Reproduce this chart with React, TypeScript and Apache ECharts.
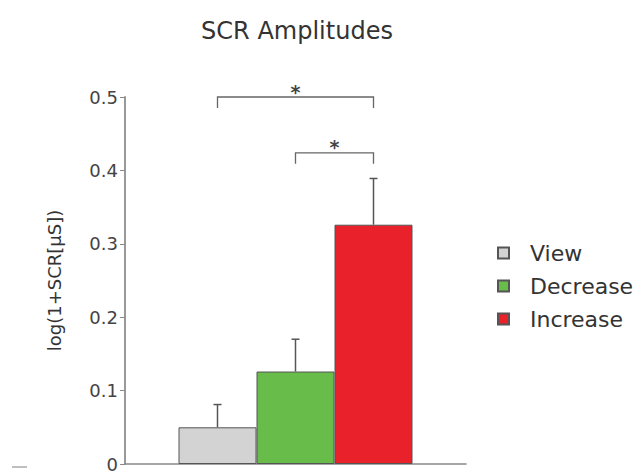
import React, { useEffect, useRef } from "react";
import * as echarts from "echarts";

const groups = ["View", "Decrease", "Increase"];
const means = [0.05, 0.126, 0.326];
const errors = [0.031, 0.044, 0.063];
const colors = ["#d3d3d3", "#68bd4a", "#e8212b"];
// comparisons: [fromIndex, toIndex, bracketLevel, label]
const comparisons: [number, number, number, string][] = [
  [0, 2, 0.5, "*"],
  [1, 2, 0.424, "*"],
];
const yTicks = { min: 0, max: 0.5, interval: 0.1 };

const BAR_W = 78;
const FONT = "'DejaVu Sans', 'Liberation Sans', Arial, sans-serif";

export default function App() {
  const ref = useRef<HTMLDivElement>(null);
  useEffect(() => {
    if (!ref.current) return;
    const chart = echarts.init(ref.current, null, { renderer: "svg" });
    const barSeries = groups.map((g, i) => ({
      name: g,
      type: "bar",
      barWidth: BAR_W,
      barGap: "0%",
      data: [means[i]],
      itemStyle: { color: colors[i], borderColor: "#555", borderWidth: 1 },
    }));
    const xOff = (i: number) => (i - (groups.length - 1) / 2) * BAR_W;
    const errorSeries = {
      type: "custom",
      silent: true,
      z: 5,
      data: groups.map((_, i) => [i, means[i], errors[i]]),
      renderItem: (params: any, api: any) => {
        const i = api.value(0);
        const m = api.value(1);
        const e = api.value(2);
        const top = api.coord([0, m]);
        const hi = api.coord([0, m + e]);
        const x = top[0] + xOff(i);
        const style = { stroke: "#555", lineWidth: 1.5 };
        return {
          type: "group",
          children: [
            { type: "line", shape: { x1: x, y1: top[1], x2: x, y2: hi[1] }, style },
            { type: "line", shape: { x1: x - 4, y1: hi[1], x2: x + 4, y2: hi[1] }, style },
          ],
        };
      },
    };
    const bracketSeries = {
      type: "custom",
      silent: true,
      z: 5,
      data: comparisons.map((c) => [c[0], c[1], c[2]]),
      renderItem: (params: any, api: any) => {
        const a = api.value(0);
        const b = api.value(1);
        const lvl = api.value(2);
        const p = api.coord([0, lvl]);
        const x1 = p[0] + xOff(a);
        const x2 = p[0] + xOff(b);
        const y = p[1];
        const style = { stroke: "#666", lineWidth: 1.3, fill: "none" };
        return {
          type: "group",
          children: [
            {
              type: "polyline",
              shape: { points: [[x1, y + 11], [x1, y], [x2, y], [x2, y + 11]] },
              style,
            },
            {
              type: "text",
              style: {
                text: comparisons[params.dataIndex][3],
                x: (x1 + x2) / 2,
                y: y + 4,
                align: "center",
                verticalAlign: "bottom",
                fontSize: 19,
                fontWeight: "bold",
                fontFamily: FONT,
                fill: "#444",
              },
            },
          ],
        };
      },
    };
    chart.setOption({
      animation: false,
      title: {
        text: "SCR Amplitudes",
        left: 292,
        textAlign: "center",
        top: 14,
        textStyle: { fontSize: 24, fontWeight: "normal", color: "#333", fontFamily: FONT },
      },
      legend: {
        data: groups,
        orient: "vertical",
        left: 492,
        top: 237,
        icon: "rect",
        itemWidth: 11,
        itemHeight: 11,
        itemGap: 11,
        textStyle: { fontSize: 22, color: "#333", fontFamily: FONT, padding: [0, 0, 0, 16] },
      },
      grid: { left: 125, right: 168, top: 97, bottom: 6, containLabel: false },
      xAxis: {
        type: "category",
        data: [""],
        axisLine: { lineStyle: { color: "#888", width: 1.5 } },
        axisTick: { show: false },
        axisLabel: { show: false },
      },
      yAxis: {
        type: "value",
        min: yTicks.min,
        max: yTicks.max,
        interval: yTicks.interval,
        name: "log(1+SCR[µS])",
        nameLocation: "middle",
        nameRotate: 90,
        nameGap: 62,
        nameTextStyle: { fontSize: 18, color: "#333", fontFamily: FONT },
        axisLine: { show: true, lineStyle: { color: "#999", width: 2 } },
        axisTick: { show: true, length: 5, lineStyle: { color: "#888" } },
        axisLabel: { fontSize: 18, color: "#444", fontFamily: FONT, margin: 7 },
        splitLine: { show: false },
      },
      graphic: [
        {
          type: "line",
          shape: { x1: 12, y1: 467, x2: 27, y2: 467 },
          style: { stroke: "#aaa", lineWidth: 1.5 },
        },
      ],
      series: [...barSeries, errorSeries, bracketSeries],
    });
    return () => chart.dispose();
  }, []);
  return (
    <div
      ref={ref}
      style={{ position: "fixed", left: 0, top: 0, width: 634, height: 473, background: "#fff" }}
    />
  );
}
